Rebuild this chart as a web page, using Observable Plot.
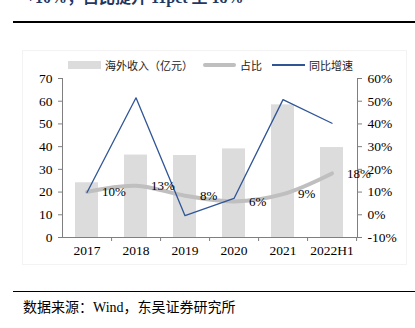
<!DOCTYPE html>
<html>
<head>
<meta charset="utf-8">
<script src="https://cdn.jsdelivr.net/npm/d3@7"></script>
<script src="https://cdn.jsdelivr.net/npm/@observablehq/plot@0.6"></script>
<style>
  html, body { margin: 0; padding: 0; background: #fff; }
  #wrap { position: relative; width: 415px; height: 328px; overflow: hidden; background: #fff; }
  #title { position: absolute; left: 26px; top: -10px; font: bold 16px "Liberation Serif", "Noto Sans CJK SC", serif; color: #1f3864; white-space: nowrap; line-height: 16px; }
  .rule { position: absolute; left: 13px; width: 402px; background: #000; }
  #box { position: absolute; left: 22px; top: 50px; width: 385px; height: 215px; border: 1px solid #f3f3f3; box-sizing: border-box; }
  #chart { position: absolute; left: 0; top: 0; }
  #legend { position: absolute; top: 58px; left: 68px; display: flex; align-items: center; font: 11px "Noto Sans CJK SC", sans-serif; color: #222; white-space: nowrap; height: 14px; }
  #legend .sw { display: inline-block; margin-right: 4px; }
  #legend .item { display: flex; align-items: center; margin-right: 10px; }
  #caption { position: absolute; left: 23px; top: 296px; font: 14px "Liberation Serif", "Noto Sans CJK SC", serif; color: #000; white-space: nowrap; }
</style>
</head>
<body>
<div id="wrap">
  <div id="title"></div>
  <div class="rule" style="top:21px;height:2px"></div>
  <div id="box"></div>
  <div id="chart"></div>
  <div id="legend"></div>
  <div class="rule" style="top:290.5px;height:1.5px"></div>
  <div id="caption"></div>
</div>
<script>
// ---- data ----
const titleText = "+10%，占比提升 11pct 至 18%";
const captionText = "数据来源：Wind，东吴证券研究所";
const years = ["2017", "2018", "2019", "2020", "2021", "2022H1"];
const revenue = [24.1, 36.3, 36.1, 39.0, 58.4, 39.6];      // 海外收入（亿元）
const share = [10.1, 12.8, 8.4, 5.9, 9.1, 18.2];           // 占比 (%)
const shareLabels = ["10%", "13%", "8%", "6%", "9%", "18%"];
const growth = [9.8, 51.5, -0.4, 7.2, 50.7, 40.3];         // 同比增速 (%)
const leftTicks = [0, 10, 20, 30, 40, 50, 60, 70];
const rightTickLabels = ["-10%", "0%", "10%", "20%", "30%", "40%", "50%", "60%"];
const seriesNames = ["海外收入（亿元）", "占比", "同比增速"];

// right axis (-10%..60%) aligned with left axis (0..70)
const pctShift = 10;

const data = years.map((y, i) => ({
  year: y, revenue: revenue[i], share: share[i] + pctShift,
  growth: growth[i] + pctShift, label: shareLabels[i]
}));

const W = 415, H = 270, ML = 62, MR = 58, MT = 78, MB = 33;
const halfStep = (W - ML - MR) / years.length / 2;

const axisColor = "#7f7f7f";
const barColor = "#dcdcdc";
const shareColor = "#bfbfbf";
const growthColor = "#2f5597";

const chart = Plot.plot({
  width: W, height: H,
  marginLeft: ML, marginRight: MR, marginTop: MT, marginBottom: MB,
  x: { domain: years, paddingInner: 0.53, paddingOuter: 0.265, axis: null },
  y: { domain: [0, 70], axis: null },
  style: { fontFamily: "'Liberation Serif', serif", fontSize: "13.5px", color: "#000", background: "transparent", overflow: "visible" },
  marks: [
    Plot.barY(data, { x: "year", y: "revenue", fill: barColor }),
    Plot.frame({ anchor: "left", stroke: axisColor }),
    Plot.frame({ anchor: "right", stroke: axisColor }),
    Plot.ruleY([0], { stroke: axisColor }),
    Plot.axisY({ anchor: "left", ticks: leftTicks, tickSize: 4, tickPadding: 6, stroke: axisColor, label: null, fill: "#000" }),
    Plot.axisY({ anchor: "right", ticks: leftTicks, tickFormat: (d) => rightTickLabels[leftTicks.indexOf(d)], tickSize: 4, tickPadding: 6, stroke: axisColor, label: null, fill: "#000" }),
    Plot.axisX({ tickSize: 0, tickPadding: 8, label: null, fill: "#000" }),
    Plot.axisX({ tickSize: 4, tickFormat: () => "", dx: halfStep, stroke: axisColor, label: null }),
    Plot.line(data, { x: "year", y: "share", stroke: shareColor, strokeWidth: 4, curve: "catmull-rom" }),
    Plot.line(data, { x: "year", y: "growth", stroke: growthColor, strokeWidth: 1.3 }),
    Plot.text(data, { x: "year", y: "share", text: "label", dx: 15, textAnchor: "start", fontSize: 13, fill: "#000" })
  ]
});
document.getElementById("chart").appendChild(chart);

document.getElementById("title").textContent = titleText;
document.getElementById("caption").textContent = captionText;

const lg = document.getElementById("legend");
const swatches = [
  `<span class="sw" style="width:33px;height:8px;background:${barColor}"></span>`,
  `<span class="sw" style="width:33px;height:4px;border-radius:2px;background:${shareColor}"></span>`,
  `<span class="sw" style="width:33px;height:1.3px;background:${growthColor}"></span>`
];
lg.innerHTML = seriesNames.map((n, i) => `<span class="item">${swatches[i]}<span>${n}</span></span>`).join("");
</script>
</body>
</html>
